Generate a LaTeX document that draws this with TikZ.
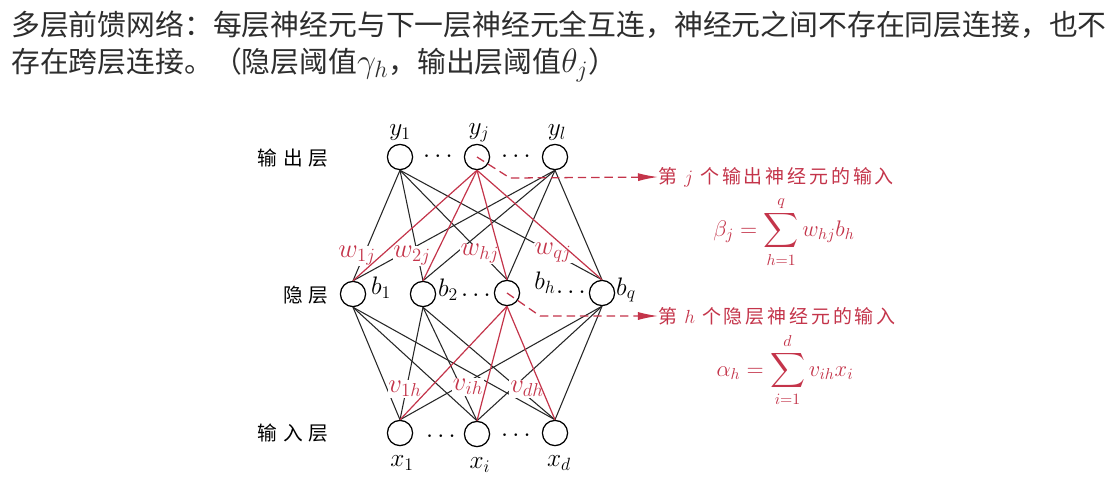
\RequirePackage{fix-cm}
\documentclass[tikz,border=0pt]{standalone}
\usepackage{exscale}
\usepackage{fontspec}
\usetikzlibrary{arrows.meta}
\newfontfamily\cjk{Noto Sans CJK SC}
\newfontfamily\cjklayer[LetterSpace=30]{Noto Sans CJK SC}
\newfontfamily\cjkred[LetterSpace=15]{Noto Sans CJK SC}
\definecolor{xRed}{RGB}{196,52,74}
\definecolor{xInk}{RGB}{45,45,45}

\begin{document}
\begin{tikzpicture}[x=0.025cm,y=-0.025cm,
    neuron/.style={circle,draw=black,line width=0.9pt,minimum size=0.63cm,inner sep=0pt},
    conn/.style={black!85,line width=0.75pt},
    hot/.style={xRed,line width=0.85pt},
    wlabel/.style={fill=white,inner sep=0.6pt,text=xRed,font=\fontsize{19}{22}\selectfont},
    mlabel/.style={inner sep=0pt,font=\fontsize{18}{21}\selectfont},
    layer/.style={font=\cjklayer\fontsize{14}{16}\selectfont},
    note/.style={anchor=west,text=xRed,inner sep=0pt,font=\cjkred\fontsize{13.5}{16}\selectfont},
    formula/.style={text=xRed,inner sep=0pt,font=\fontsize{16}{19}\selectfont},
    hotdash/.style={xRed,line width=0.9pt,dash pattern=on 6pt off 3.5pt,-{Latex[length=0.5cm,width=0.2cm]}}
  ]

    % -------------------------------------------------
    % White background, fixes the page size
    % -------------------------------------------------
    \fill[white] (0,0) rectangle (1114,482);
    \useasboundingbox (0,0) rectangle (1114,482);

    % -------------------------------------------------
    % Caption text above the network
    % -------------------------------------------------
    \node[anchor=base west,inner sep=0pt,text=xInk,font=\cjk\fontsize{20.5}{24}\selectfont]
        (cap1) at (11,35) {多层前馈网络：每层神经元与下一层神经元全互连，神经元之间不存在同层连接，也不};
    \node[anchor=base west,inner sep=0pt,text=xInk,font=\cjk\fontsize{20.5}{24}\selectfont]
        (cap2) at (11,72) {存在跨层连接。（隐层阈值{\fontsize{24}{24}\selectfont$\gamma_h$}，输出层阈值{\fontsize{24}{24}\selectfont$\theta_j$}）};

    % -------------------------------------------------
    % Neurons: output, hidden and input layer
    % -------------------------------------------------
    \node[neuron] (y1) at (400,157) {};
    \node[neuron] (yj) at (477,157) {};
    \node[neuron] (yl) at (555,157) {};

    \node[neuron] (h1) at (353,294) {};
    \node[neuron] (h2) at (423,294) {};
    \node[neuron] (hh) at (507,293) {};
    \node[neuron] (hq) at (602,293) {};

    \node[neuron] (x1) at (400,433) {};
    \node[neuron] (xi) at (477,434) {};
    \node[neuron] (xd) at (555,433) {};

    % -------------------------------------------------
    % Layer names
    % -------------------------------------------------
    \node[layer] (lout) at (293,158) {输出层};
    \node[layer] (lhid) at (306,295) {隐层};
    \node[layer] (lin)  at (293,433) {输入层};

    % -------------------------------------------------
    % Black connections (all but the j-th output
    % and the h-th hidden neuron)
    % -------------------------------------------------
    \foreach \o in {y1,yl}{
        \foreach \h in {h1,h2,hh,hq}{
            \draw[conn] (\o.south) -- (\h.north);
        }
    }
    \foreach \h in {h1,h2,hq}{
        \foreach \x in {x1,xi,xd}{
            \draw[conn] (\h.south) -- (\x.north);
        }
    }

    % -------------------------------------------------
    % Weight labels, white boxes break the black lines
    % -------------------------------------------------
    \node[wlabel] (w1) at (357,256) {$w_{1j}$};
    \node[wlabel] (w2) at (412,256) {$w_{2j}$};
    \node[wlabel] (wh) at (480,254) {$w_{hj}$};
    \node[wlabel] (wq) at (553,253) {$w_{qj}$};

    \node[wlabel] (v1) at (405,389) {$v_{1h}$};
    \node[wlabel] (vi) at (468,387) {$v_{ih}$};
    \node[wlabel] (vd) at (527,389) {$v_{dh}$};

    % -------------------------------------------------
    % Red connections into y_j and out of b_h
    % -------------------------------------------------
    \foreach \h in {h1,h2,hh,hq}{
        \draw[hot] (yj.south) -- (\h.north);
    }
    \foreach \x in {x1,xi,xd}{
        \draw[hot] (hh.south) -- (\x.north);
    }

    % -------------------------------------------------
    % Neuron names and dots
    % -------------------------------------------------
    \node[mlabel] (ny1) at (400,133) {$y_1$};
    \node[mlabel] (nyj) at (479,133) {$y_j$};
    \node[mlabel] (nyl) at (557,133) {$y_l$};

    \node[mlabel] (nb1) at (381,288) {$b_1$};
    \node[mlabel] (nb2) at (448,290) {$b_2$};
    \node[mlabel] (nbh) at (545,283) {$b_h$};
    \node[mlabel] (nbq) at (626,290) {$b_q$};

    \node[mlabel] (nx1) at (402,463) {$x_1$};
    \node[mlabel] (nxi) at (480,465) {$x_i$};
    \node[mlabel] (nxd) at (559,463) {$x_d$};

    \node[mlabel] (dy1) at (438,157) {$\cdots$};
    \node[mlabel] (dy2) at (516,157) {$\cdots$};
    \node[mlabel] (dh1) at (476,296) {$\cdots$};
    \node[mlabel] (dh2) at (571,293) {$\cdots$};
    \node[mlabel] (dx1) at (441,437) {$\cdots$};
    \node[mlabel] (dx2) at (516,436) {$\cdots$};

    % -------------------------------------------------
    % Notes on the right with their formulas
    % -------------------------------------------------
    \node[note] (tj) at (658,177) {第 $j$ 个输出神经元的输入};
    \node[formula] (fj) at (784,232) {$\displaystyle\beta_j=\sum_{h=1}^{q}w_{hj}b_h$};

    \node[note] (th) at (658,316) {第 $h$ 个隐层神经元的输入};
    \node[formula] (fh) at (785,370) {$\displaystyle\alpha_h=\sum_{i=1}^{d}v_{ih}x_i$};

    \coordinate (bj) at (510,178);
    \coordinate (bh) at (540,316);
    \draw[hotdash] (yj.center) -- (bj) -- (tj.west);
    \draw[hotdash] (hh.center) -- (bh) -- (th.west);

\end{tikzpicture}
\end{document}
